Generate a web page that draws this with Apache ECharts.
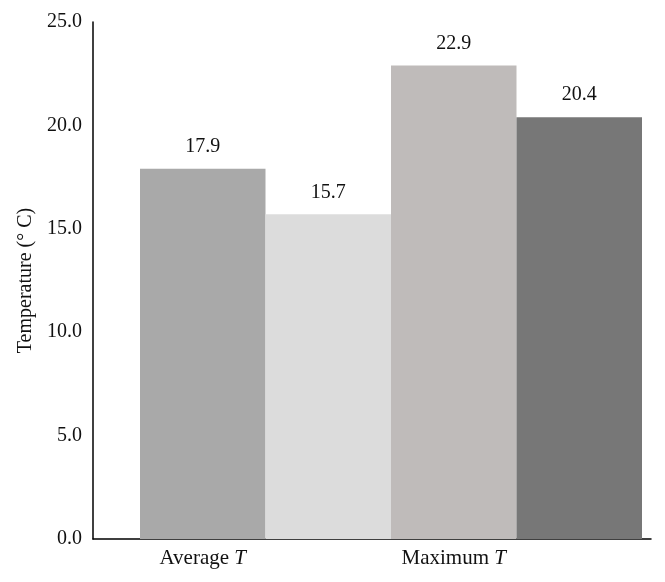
<!DOCTYPE html>
<html>
<head>
<meta charset="utf-8">
<script src="https://cdn.jsdelivr.net/npm/echarts@6/dist/echarts.min.js"></script>
<style>
  html, body { margin: 0; padding: 0; background: #fff; }
  #chart { width: 665px; height: 582px; }
</style>
</head>
<body>
<div id="chart"></div>
<script>
// data
var groups = ['Average', '', 'Maximum', ''];
var temps = [17.9, 15.7, 22.9, 20.4];
var barColors = ['#a9a9a9', '#dcdcdc', '#bfbbba', '#777777'];
var yTicks = [0, 5, 10, 15, 20, 25];

var serif = '"Liberation Serif", "DejaVu Serif", serif';

window.onload = function () {
  var chart = echarts.init(document.getElementById('chart'));

  chart.setOption({
    backgroundColor: '#fff',
    animation: false,
    grid: [
      { left: 93, right: 14, top: 22, bottom: 43 },   // axis frame
      { left: 140, right: 23, top: 22, bottom: 43 }   // bars
    ],
    xAxis: [{
      type: 'category', gridIndex: 0, data: [],
      axisLine: { lineStyle: { color: '#000', width: 1.5 } },
      axisTick: { show: false }, axisLabel: { show: false }
    }, {
      type: 'category', gridIndex: 1, data: groups,
      axisLine: { show: false }, axisTick: { show: false },
      axisLabel: {
        margin: 9,
        formatter: function (v) {
          return v ? '{a|' + v + ' }{i|T}' : '';
        },
        rich: {
          a: { fontFamily: serif, fontSize: 21, color: '#111' },
          i: { fontFamily: serif, fontSize: 21, color: '#111', fontStyle: 'italic' }
        }
      }
    }],
    yAxis: [{
      type: 'value', gridIndex: 0,
      min: yTicks[0], max: yTicks[yTicks.length - 1], interval: 5,
      name: 'Temperature (° C)', nameLocation: 'middle', nameGap: 52,
      nameTextStyle: { fontFamily: serif, fontSize: 20, color: '#111' },
      axisLine: { show: true, lineStyle: { color: '#000', width: 1.5 } },
      axisTick: { show: false },
      splitLine: { show: false },
      axisLabel: {
        margin: 11, fontFamily: serif, fontSize: 20, color: '#111',
        formatter: function (v) { return v.toFixed(1); }
      }
    }, {
      type: 'value', gridIndex: 1, min: 0, max: 25, show: false
    }],
    series: [{
      type: 'bar', xAxisIndex: 1, yAxisIndex: 1,
      barCategoryGap: 0,
      data: temps.map(function (v, i) {
        return { value: v, itemStyle: { color: barColors[i] } };
      }),
      label: {
        show: true, position: 'top', distance: 12,
        fontFamily: serif, fontSize: 20, color: '#111',
        formatter: function (p) { return p.value.toFixed(1); }
      }
    }]
  });
};
</script>
</body>
</html>
